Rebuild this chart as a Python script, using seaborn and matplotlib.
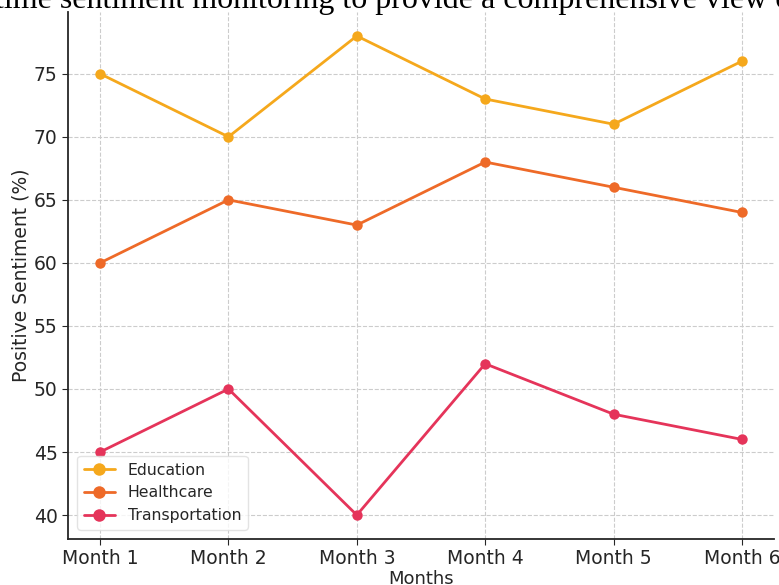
import numpy as np
import pandas as pd
import matplotlib
matplotlib.use("Agg")
import matplotlib.pyplot as plt
import seaborn as sns

months = ["Month 1", "Month 2", "Month 3", "Month 4", "Month 5", "Month 6"]
education = [75, 70, 78, 73, 71, 76]
healthcare = [60, 65, 63, 68, 66, 64]
transportation = [45, 50, 40, 52, 48, 46]
sectors = ["Education", "Healthcare", "Transportation"]
colors = ["#F5A81C", "#EE6A28", "#E5345A"]

df = pd.DataFrame({
    "Month": months * 3,
    "Sentiment": education + healthcare + transportation,
    "Sector": np.repeat(sectors, len(months)),
})

sns.set_style("ticks")
plt.rcParams["font.family"] = ["DejaVu Sans"]

fig = plt.figure(figsize=(7.79, 5.85), dpi=100)
ax = fig.add_axes([0.0873, 0.0786, 0.9063, 0.9009])

sns.lineplot(data=df, x="Month", y="Sentiment", hue="Sector", palette=colors,
             marker="o", markersize=7.5, markeredgewidth=0, linewidth=2,
             sort=False, ax=ax)

ax.grid(True, linestyle="--", color="#cccccc", linewidth=0.8)
ax.set_xlabel("Months", fontsize=13, color="#262626", labelpad=1)
ax.set_ylabel("Positive Sentiment (%)", fontsize=13.5, color="#262626", labelpad=2)
ax.tick_params(labelsize=13.5, colors="#262626", length=4)
ax.set_yticks([40, 45, 50, 55, 60, 65, 70, 75])
ax.set_ylim(38.1, 79.9)
ax.set_xlim(-0.25, 5.25)
sns.despine(ax=ax)
for s in ["left", "bottom"]:
    ax.spines[s].set_linewidth(1.3)
    ax.spines[s].set_color("#262626")

leg = ax.legend(loc="lower left", fontsize=11.3, frameon=True, borderaxespad=0.6,
                markerscale=1.2)
leg.get_frame().set_edgecolor("#dddddd")

# cropped document text above the chart
fig.text(-0.006, 0.986, "time sentiment monitoring to provide a comprehensive view of",
         family="Liberation Serif", fontsize=23, ha="left", va="baseline", color="black")

fig.savefig("out.png", dpi=100)
